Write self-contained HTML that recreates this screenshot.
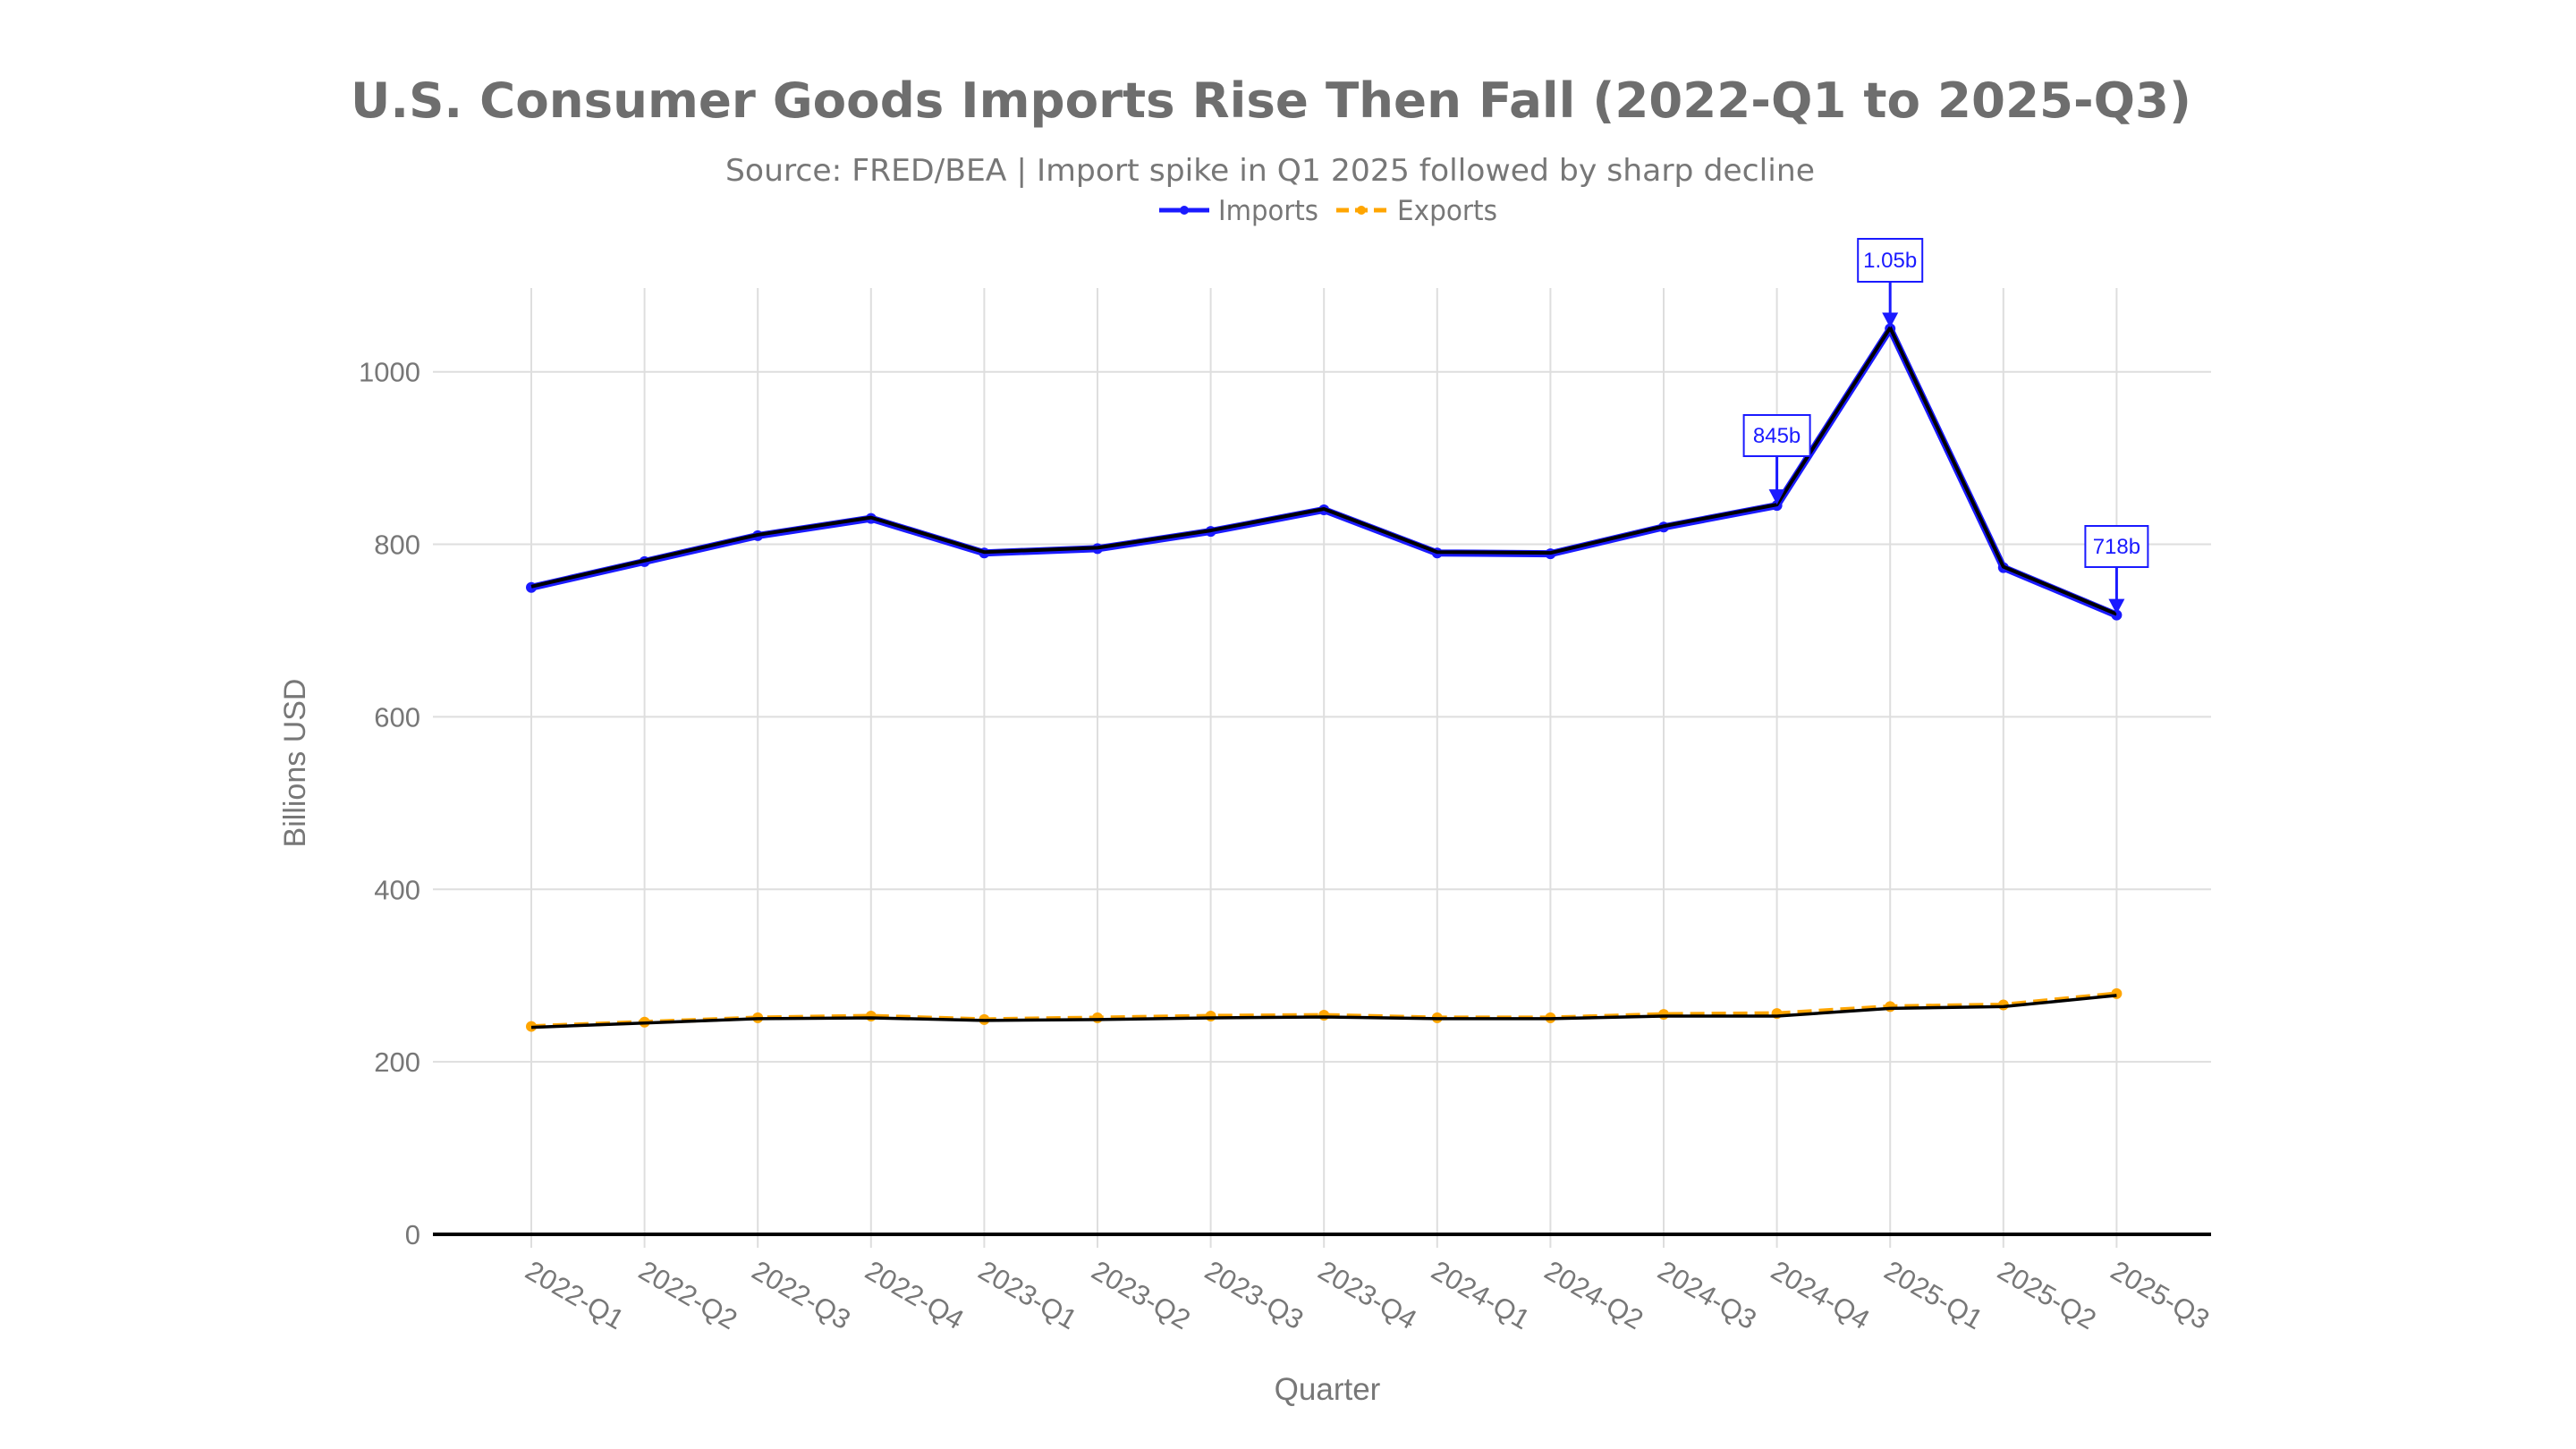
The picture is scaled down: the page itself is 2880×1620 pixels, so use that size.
<!DOCTYPE html>
<html><head><meta charset="utf-8"><style>
html,body{margin:0;padding:0;background:#fff;}
svg{display:block;font-family:"Liberation Sans",sans-serif;}
</style></head><body>
<svg width="2880" height="1620" viewBox="0 0 2880 1620" xmlns="http://www.w3.org/2000/svg">
<rect width="2880" height="1620" fill="#fff"/>
<text x="392" y="131" font-family="DejaVu Sans, sans-serif" font-size="54" font-weight="bold" fill="#6e6e6e" textLength="2058" lengthAdjust="spacingAndGlyphs">U.S. Consumer Goods Imports Rise Then Fall (2022-Q1 to 2025-Q3)</text>
<text x="811" y="202" font-family="DejaVu Sans, sans-serif" font-size="34" fill="#777" textLength="1218" lengthAdjust="spacingAndGlyphs">Source: FRED/BEA | Import spike in Q1 2025 followed by sharp decline</text>
<g font-size="31" fill="#777" font-family="DejaVu Sans, sans-serif">
<line x1="1296" y1="235" x2="1352" y2="235" stroke="#1a1aff" stroke-width="5"/><circle cx="1324" cy="235" r="5" fill="#1a1aff"/>
<text x="1362" y="246" textLength="112" lengthAdjust="spacingAndGlyphs">Imports</text>
<line x1="1494" y1="235" x2="1550" y2="235" stroke="#ffa500" stroke-width="5" stroke-dasharray="14,7"/><circle cx="1522" cy="235" r="5" fill="#ffa500"/>
<text x="1562" y="246" textLength="112" lengthAdjust="spacingAndGlyphs">Exports</text>
</g>
<g id="grid" stroke="#dedede" stroke-width="2"></g>
<g id="ylab" font-size="31" fill="#777" text-anchor="end"></g>
<g id="xlab" font-size="31" fill="#777"></g>
<line x1="484" y1="1380" x2="2472" y2="1380" stroke="#000" stroke-width="4"/>
<text transform="translate(341,853) rotate(-90)" text-anchor="middle" font-size="34" fill="#777">Billions USD</text>
<text x="1484" y="1565" text-anchor="middle" font-size="35" fill="#777">Quarter</text>
<g id="series"></g>
<g id="ann" font-size="24" fill="#1a1aff"></g>
<script>
var ns="http://www.w3.org/2000/svg";
function X(i){return 594+i*126.6;}
function Y(v){return 1380-v*0.9643;}
function el(p,t,a,txt){var e=document.createElementNS(ns,t);for(var k in a)e.setAttribute(k,a[k]);if(txt!=null)e.textContent=txt;document.getElementById(p).appendChild(e);return e;}
var Q=["2022-Q1","2022-Q2","2022-Q3","2022-Q4","2023-Q1","2023-Q2","2023-Q3","2023-Q4","2024-Q1","2024-Q2","2024-Q3","2024-Q4","2025-Q1","2025-Q2","2025-Q3"];
for(var v=200;v<=1000;v+=200)el("grid","line",{x1:484,x2:2472,y1:Y(v),y2:Y(v)});
for(var i=0;i<15;i++){el("grid","line",{x1:X(i),x2:X(i),y1:322,y2:1395});
el("xlab","text",{transform:"translate("+(X(i)+2)+",1408) rotate(30)",dy:"0.7em"},Q[i]);}
for(var v=0;v<=1000;v+=200)el("ylab","text",{x:470,y:Y(v)+11},v);
var imp=[750,780,810,830,790,795,815,840,790,789,820,845,1050,773,718];
var exp=[240,245,250,252,248,250,252,253,250,250,254,255,263,265,278];
var blk=[240,245,250,251,248,249,251,252,250,250,253,253,262,264,277];
function pts(a,o){return a.map(function(v,i){return X(i)+","+(Y(v)+(o||0));}).join(" ");}
el("series","polyline",{points:pts(imp),fill:"none",stroke:"#1a1aff","stroke-width":8,"stroke-linejoin":"round"});
imp.forEach(function(v,i){el("series","circle",{cx:X(i),cy:Y(v),r:6,fill:"#1a1aff"});});
el("series","polyline",{points:pts(imp,-1),fill:"none",stroke:"#000","stroke-width":4,"stroke-linejoin":"round"});
el("series","polyline",{points:pts(exp,-1),fill:"none",stroke:"#ffa500","stroke-width":5,"stroke-dasharray":"16,8"});
exp.forEach(function(v,i){el("series","circle",{cx:X(i),cy:Y(v)-1,r:6,fill:"#ffa500"});});
el("series","polyline",{points:pts(blk,0),fill:"none",stroke:"#000","stroke-width":3.5,"stroke-linejoin":"round"});
function ann(i,v,by,bw,bh,t){var x=X(i),y=Y(v),bx=x-bw/2;
el("ann","rect",{x:bx,y:by,width:bw,height:bh,fill:"#fff",stroke:"#1a1aff","stroke-width":2});
el("ann","text",{x:x,y:by+bh/2+8,"text-anchor":"middle"},t);
el("ann","line",{x1:x,y1:by+bh,x2:x,y2:y-14,stroke:"#1a1aff","stroke-width":3});
el("ann","polygon",{points:(x-9)+","+(y-18)+" "+(x+9)+","+(y-18)+" "+x+","+(y-1),fill:"#1a1aff"});}
ann(11,845,464,74,46,"845b");
ann(12,1050,267,72,48,"1.05b");
ann(14,718,588,70,46,"718b");
</script>
</svg>
</body></html>
